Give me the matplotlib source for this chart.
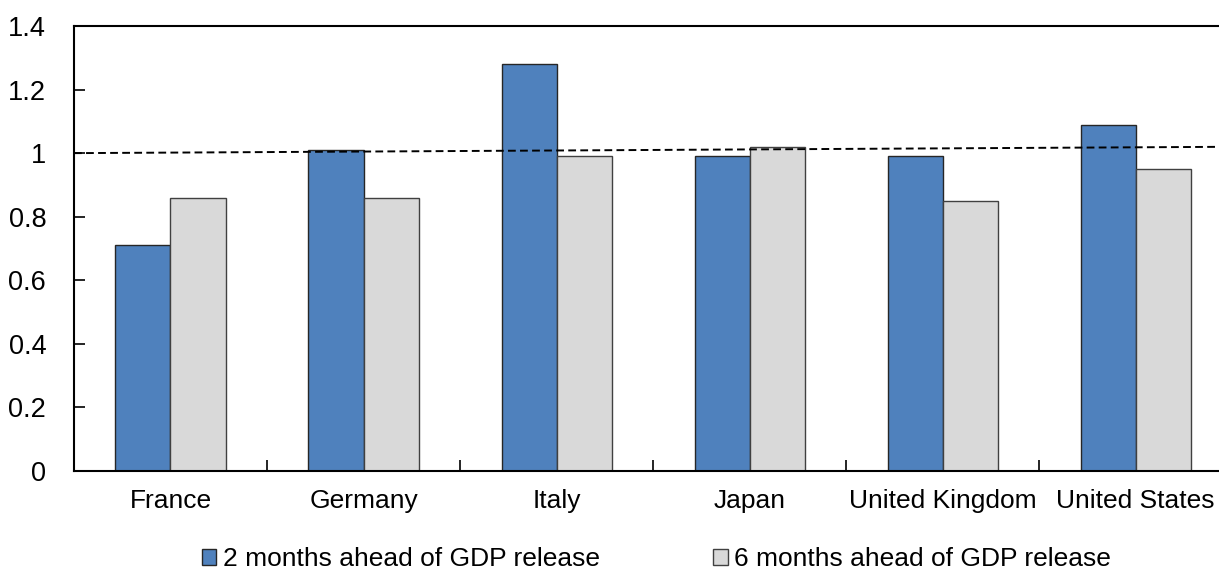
import matplotlib
matplotlib.use("Agg")
from matplotlib import pyplot as plt
import numpy as np

countries = ["France", "Germany", "Italy", "Japan", "United Kingdom", "United States"]
ahead_2m = [0.71, 1.01, 1.28, 0.99, 0.99, 1.09]
ahead_6m = [0.86, 0.86, 0.99, 1.02, 0.85, 0.95]
series_names = ["2 months ahead of GDP release", "6 months ahead of GDP release"]
ref_line = [1.0, 1.02]
y_ticks = [0, 0.2, 0.4, 0.6, 0.8, 1, 1.2, 1.4]

plt.rcParams['font.family'] = ['Liberation Sans', 'DejaVu Sans']

fig = plt.figure(figsize=(12.19, 5.71), dpi=100)
ax = fig.add_axes([0.0607, 0.1751, 0.9500, 0.7794])

x = np.arange(len(countries))
w = 0.285
ax.bar(x - w/2, ahead_2m, w, color="#4F81BD", edgecolor="#262626", linewidth=1.0,
       label=series_names[0], zorder=2)
ax.bar(x + w/2, ahead_6m, w, color="#D9D9D9", edgecolor="#404040", linewidth=1.0,
       label=series_names[1], zorder=2)

# dashed reference line, slight upward slope
ax.plot([-0.5, len(countries) - 0.5], ref_line, color="black", linestyle=(0, (4, 2.2)),
        linewidth=1.4, zorder=3, clip_on=False)

ax.set_xlim(-0.5, len(countries) - 0.5)
ax.set_ylim(0, 1.4)
ax.set_yticks(y_ticks)
ax.set_yticklabels(["{:g}".format(v) for v in y_ticks])
ax.set_xticks(x)
ax.set_xticklabels(countries)
ax.set_xticks(np.arange(0.5, len(countries) - 0.5, 1), minor=True)

ax.tick_params(axis="x", which="major", length=0, pad=13, labelsize=19)
ax.tick_params(axis="x", which="minor", direction="in", length=8, width=1.2)
ax.tick_params(axis="y", direction="in", length=8, width=1.2, pad=20, labelsize=19.5)

for s in ["left", "bottom", "top"]:
    ax.spines[s].set_linewidth(1.5)
ax.spines["right"].set_visible(False)

ax.legend(loc="center", bbox_to_anchor=(0.503, -0.198), ncol=2, frameon=False, fontsize=19,
          handlelength=0.55, handleheight=0.55, handletextpad=0.25, columnspacing=4.3,
          borderaxespad=0)

fig.savefig("out.png", dpi=100)
